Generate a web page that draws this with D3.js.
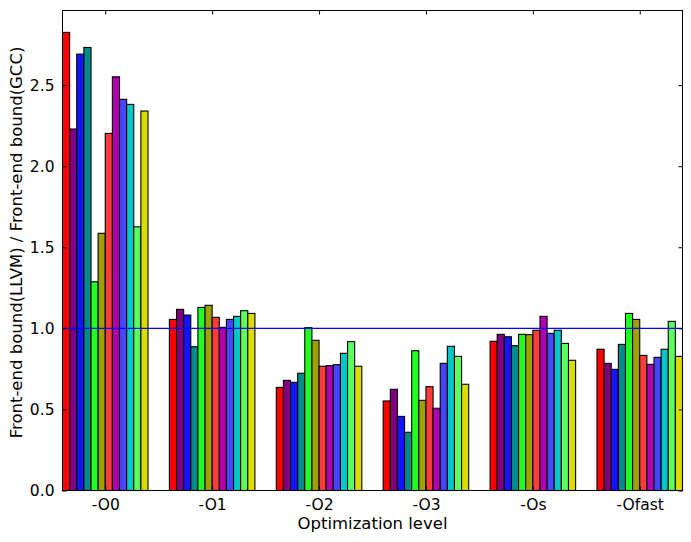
<!DOCTYPE html>
<html>
<head>
<meta charset="utf-8">
<script src="https://cdn.jsdelivr.net/npm/d3@7"></script>
<style>
  body { margin: 0; background: #fff; }
  svg text { font-family: "DejaVu Sans", sans-serif; font-size: 15.5px; fill: #000; }
  svg text.lab { font-size: 16.5px; }
</style>
</head>
<body>
<svg id="viz" width="691" height="542"></svg>
<script>
// Data
const levels = ["-O0", "-O1", "-O2", "-O3", "-Os", "-Ofast"];
const valsO0 = [2.825, 2.229, 2.691, 2.732, 1.287, 1.586, 2.202, 2.551, 2.412, 2.381, 1.626, 2.340];
const valsO1 = [1.055, 1.117, 1.082, 0.887, 1.129, 1.142, 1.068, 1.006, 1.055, 1.074, 1.109, 1.092];
const valsO2 = [0.636, 0.679, 0.667, 0.723, 1.004, 0.926, 0.766, 0.770, 0.776, 0.846, 0.918, 0.766];
const valsO3 = [0.552, 0.624, 0.457, 0.359, 0.862, 0.556, 0.640, 0.507, 0.784, 0.889, 0.827, 0.655];
const valsOs = [0.920, 0.963, 0.948, 0.893, 0.963, 0.961, 0.988, 1.074, 0.969, 0.988, 0.907, 0.803];
const valsOfast = [0.871, 0.784, 0.747, 0.901, 1.092, 1.055, 0.833, 0.778, 0.821, 0.871, 1.043, 0.827];
const yTicks = [0.0, 0.5, 1.0, 1.5, 2.0, 2.5];

// one colour per benchmark (bar index inside a group)
const colors = ["#ff0000", "#800080", "#1414ff", "#008b8b", "#22ff22", "#a0a000",
                "#ff3c3c", "#b000b0", "#4646ff", "#00c8c8", "#5cff5c", "#dcdc00"];

const allVals = [valsO0, valsO1, valsO2, valsO3, valsOs, valsOfast];

// Margins
const width = 691, height = 542;
const margin = { top: 10.5, right: 8.5, bottom: 51.5, left: 62.5 };
const nBars = colors.length;
const barW = 0.8 / nBars;

const svg = d3.select("#viz");

// Scales (group i spans i .. i+0.8, like matplotlib ind + k*width)
const x = d3.scaleLinear()
    .domain([0, levels.length - 1 + 0.8])
    .range([margin.left, width - margin.right]);
const y = d3.scaleLinear()
    .domain([0, 2.96])
    .range([height - margin.bottom, margin.top]);

// flatten
const bars = [];
allVals.forEach((vals, i) => {
    vals.forEach((v, k) => bars.push({ g: i, k: k, v: v }));
});

// Draw the bars
svg.append("g").selectAll("rect")
    .data(bars)
    .join("rect")
    .attr("x", d => x(d.g + d.k * barW))
    .attr("width", d => x(d.g + (d.k + 1) * barW) - x(d.g + d.k * barW))
    .attr("y", d => y(d.v))
    .attr("height", d => y(0) - y(d.v))
    .attr("fill", d => colors[d.k])
    .attr("stroke", "#000")
    .attr("stroke-width", 1.1);

// reference line at 1.0
svg.append("line")
    .attr("x1", x.range()[0]).attr("x2", x.range()[1])
    .attr("y1", y(1)).attr("y2", y(1))
    .attr("stroke", "#0000ff").attr("stroke-width", 1.2);

// Axes (matplotlib classic: inward ticks on all four sides)
const centers = levels.map((d, i) => i + 0.4);
const fmt = d3.format(".1f");

svg.append("g")
    .attr("transform", `translate(0,${y(0)})`)
    .call(d3.axisBottom(x).tickValues(centers).tickFormat((d, i) => levels[i]).tickSizeInner(-4).tickSizeOuter(0).tickPadding(8))
    .call(g => g.select(".domain").remove());

svg.append("g")
    .attr("transform", `translate(0,${margin.top})`)
    .call(d3.axisTop(x).tickValues(centers).tickFormat("").tickSizeInner(-4).tickSizeOuter(0))
    .call(g => g.select(".domain").remove());

svg.append("g")
    .attr("transform", `translate(${margin.left},0)`)
    .call(d3.axisLeft(y).tickValues(yTicks).tickFormat(fmt).tickSizeInner(-4).tickSizeOuter(0).tickPadding(8))
    .call(g => g.select(".domain").remove());

svg.append("g")
    .attr("transform", `translate(${width - margin.right},0)`)
    .call(d3.axisRight(y).tickValues(yTicks).tickFormat("").tickSizeInner(-4).tickSizeOuter(0))
    .call(g => g.select(".domain").remove());

// frame
svg.append("rect")
    .attr("x", margin.left).attr("y", margin.top)
    .attr("width", width - margin.left - margin.right)
    .attr("height", height - margin.top - margin.bottom)
    .attr("fill", "none").attr("stroke", "#000").attr("stroke-width", 1);

// x-axis label
svg.append("text")
    .attr("class", "lab")
    .attr("x", (margin.left + width - margin.right) / 2)
    .attr("y", 529)
    .attr("text-anchor", "middle")
    .text("Optimization level");

// y-axis label
svg.append("text")
    .attr("class", "lab")
    .attr("transform", `translate(22,${(margin.top + height - margin.bottom) / 2 - 8}) rotate(-90)`)
    .attr("text-anchor", "middle")
    .text("Front-end bound(LLVM) / Front-end bound(GCC)");
</script>
</body>
</html>
